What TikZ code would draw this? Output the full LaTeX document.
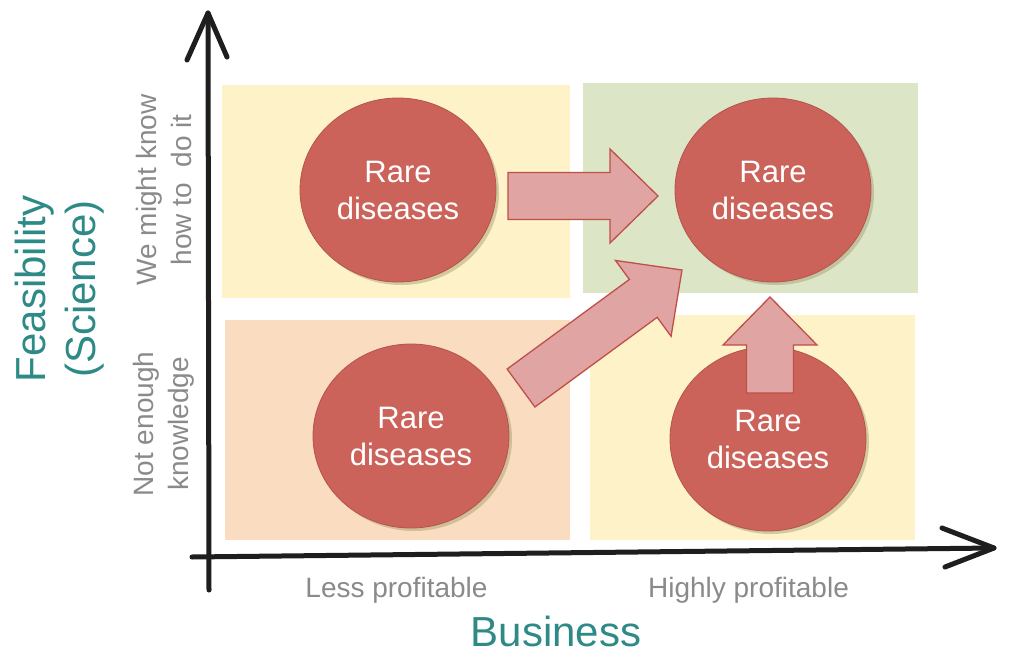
\documentclass[tikz,border=0pt]{standalone}
\usepackage{fontspec}
\setmainfont{Liberation Sans}
\usetikzlibrary{calc,shapes.geometric,shadows}
\definecolor{qyellow}{HTML}{FEF2C8}
\definecolor{qgreen}{HTML}{DCE6C7}
\definecolor{qpeach}{HTML}{FADCC0}
\definecolor{disfill}{HTML}{CC635B}
\definecolor{disdraw}{HTML}{B5534C}
\definecolor{arrfill}{HTML}{E0A4A2}
\definecolor{arrdraw}{HTML}{BE4F4A}
\definecolor{teal}{HTML}{2E8A86}
\definecolor{lblgray}{HTML}{8A8A8A}
\definecolor{axisink}{HTML}{1E1E1E}
\tikzset{
  quad/.style={draw=none},
  disease/.style={ellipse, minimum width=196pt, minimum height=184pt, inner sep=0pt,
    fill=disfill, draw=disdraw, line width=0.8pt, text=white, align=center,
    font=\fontsize{31}{37}\selectfont,
    drop shadow={shadow xshift=3pt, shadow yshift=-3pt, opacity=0.45, fill=black!45!olive!60}},
  barrow/.style={fill=arrfill, draw=arrdraw, line width=1.3pt, line join=miter},
  axisline/.style={draw=axisink, line width=5pt, line cap=round, line join=round},
  ticklbl/.style={text=lblgray, font=\fontsize{28}{35}\selectfont, align=center, inner sep=0pt},
  axislbl/.style={text=teal, font=\fontsize{42}{50}\selectfont, align=center, inner sep=0pt}
}
\newcommand\blockarr[2]{%
  \path (#1) coordinate (T) (#2) coordinate (P) ($(P)!48pt!(T)$) coordinate (B);
  \draw[barrow] ($(T)!23.5pt!90:(P)$) -- ($(B)!23.5pt!90:(P)$) -- ($(B)!47pt!90:(P)$)
    -- (P) -- ($(B)!47pt!-90:(P)$) -- ($(B)!23.5pt!-90:(P)$) -- ($(T)!23.5pt!-90:(P)$) -- cycle;}
\begin{document}
\begin{tikzpicture}[x=1pt,y=-1pt]
\useasboundingbox (0,0) rectangle (1013,653);
% quadrants
\fill[qyellow] (222,85) rectangle (570,298);
\fill[qgreen] (583,83) rectangle (918,293);
\fill[qpeach] (225,320) rectangle (570,540);
\fill[qyellow] (590,315) rectangle (915,540);
% axes
\coordinate (ybot) at (209,590);
\coordinate (ytop) at (208,13);
\coordinate (yl) at (187,60);
\coordinate (yr) at (227,57);
\coordinate (xl) at (192,557);
\coordinate (xr) at (994,548);
\coordinate (xu) at (942,528);
\coordinate (xd) at (945,567);
\draw[axisline] (ybot) -- (ytop);
\draw[axisline] (yl) -- (ytop) -- (yr);
\draw[axisline] (xl) -- (xr);
\draw[axisline] (xu) -- (xr) -- (xd);
% circles
\node[disease] (tl) at (398,190) {Rare\\diseases};
\node[disease] (tr) at (773,190) {Rare\\diseases};
\node[disease] (bl) at (411,436) {Rare\\diseases};
\node[disease] (br) at (768,439) {Rare\\diseases};
% block arrows
\coordinate (a1t) at (508,196); \coordinate (a1h) at (658,196);
\coordinate (a2t) at (521,388); \coordinate (a2h) at (682,270);
\coordinate (a3t) at (770,393); \coordinate (a3h) at (770,297);
\blockarr{a1t}{a1h}
\blockarr{a2t}{a2h}
\blockarr{a3t}{a3h}
% labels
\node[ticklbl, anchor=base] (lp) at (396.5,597) {Less profitable};
\node[ticklbl, anchor=base] (hp) at (748.5,597) {Highly profitable};
\node[axislbl, anchor=base] (bus) at (556,646) {Business};
\node[axislbl, rotate=90] (feas) at (60,289) {Feasibility\\(Science)};
\node[ticklbl, rotate=90] (know) at (164,190) {We might know\\how to~ do it};
\node[ticklbl, rotate=90] (notk) at (164,424) {Not enough\\knowledge};
\end{tikzpicture}
\end{document}
